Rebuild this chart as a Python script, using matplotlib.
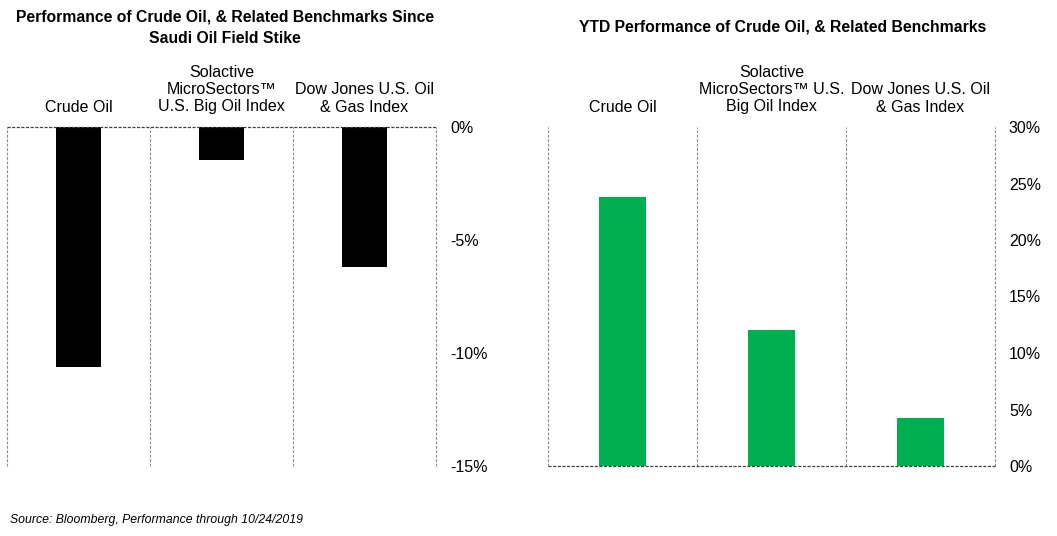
import matplotlib
matplotlib.use("Agg")
import matplotlib.pyplot as plt
from matplotlib.ticker import FuncFormatter

plt.rcParams['font.family'] = ['Liberation Sans', 'DejaVu Sans']

left_categories = ["Crude Oil", "Solactive\nMicroSectors\u2122\nU.S. Big Oil Index", "Dow Jones U.S. Oil\n& Gas Index"]
left_values = [-10.6, -1.45, -6.2]
left_ticks = [0, -5, -10, -15]

right_categories = ["Crude Oil", "Solactive\nMicroSectors\u2122 U.S.\nBig Oil Index", "Dow Jones U.S. Oil\n& Gas Index"]
right_values = [23.8, 12.0, 4.25]
right_ticks = [0, 5, 10, 15, 20, 25, 30]

W, H = 1057, 536
fig = plt.figure(figsize=(W / 100, H / 100), dpi=100)

def px_axes(x0, x1, ytop, ybot):
    return fig.add_axes([x0 / W, 1 - ybot / H, (x1 - x0) / W, (ybot - ytop) / H])

pct = FuncFormatter(lambda v, p: f"{v:.0f}%")
grid_color = "#8c8c8c"

def style(ax, cats, ylim, ticks):
    n = len(cats)
    ax.set_xlim(-0.5, n - 0.5)
    ax.set_ylim(*ylim)
    for s in ax.spines.values():
        s.set_visible(False)
    for xb in [i - 0.5 for i in range(n + 1)]:
        ax.axvline(xb, color=grid_color, lw=0.8, ls=(0, (2.5, 1.5)), zorder=0, clip_on=False)
    ax.axhline(0, color="#404040", lw=0.9, ls=(0, (2.5, 1.2)), zorder=3, clip_on=False)
    ax.xaxis.tick_top()
    ax.set_xticks(range(n))
    ax.set_xticklabels(cats, fontsize=11.5, linespacing=1.2)
    ax.tick_params(axis="x", length=0, pad=9)
    ax.yaxis.tick_right()
    ax.set_yticks(ticks)
    ax.yaxis.set_major_formatter(pct)
    ax.tick_params(axis="y", length=0, pad=10, labelsize=11.5)

ax1 = px_axes(7, 436, 127, 466)
ax1.bar(range(len(left_values)), left_values, width=0.31, color="black", zorder=2)
style(ax1, left_categories, (-15, 0), left_ticks)
fig.text(225 / W, 1 - 28 / H, "Performance of Crude Oil, & Related Benchmarks Since\nSaudi Oil Field Stike",
         ha="center", va="center", fontsize=11.3, fontweight="bold", linespacing=1.5)

ax2 = px_axes(548, 995, 127, 466)
ax2.bar(range(len(right_values)), right_values, width=0.31, color="#00B050", zorder=2)
style(ax2, right_categories, (0, 30), right_ticks)
fig.text(783 / W, 1 - 27 / H, "YTD Performance of Crude Oil, & Related Benchmarks",
         ha="center", va="center", fontsize=11.3, fontweight="bold")

fig.text(10 / W, 1 - 520 / H, "Source: Bloomberg, Performance through 10/24/2019",
         ha="left", va="center", fontsize=8.8, style="italic")

fig.savefig("out.png", dpi=100)
